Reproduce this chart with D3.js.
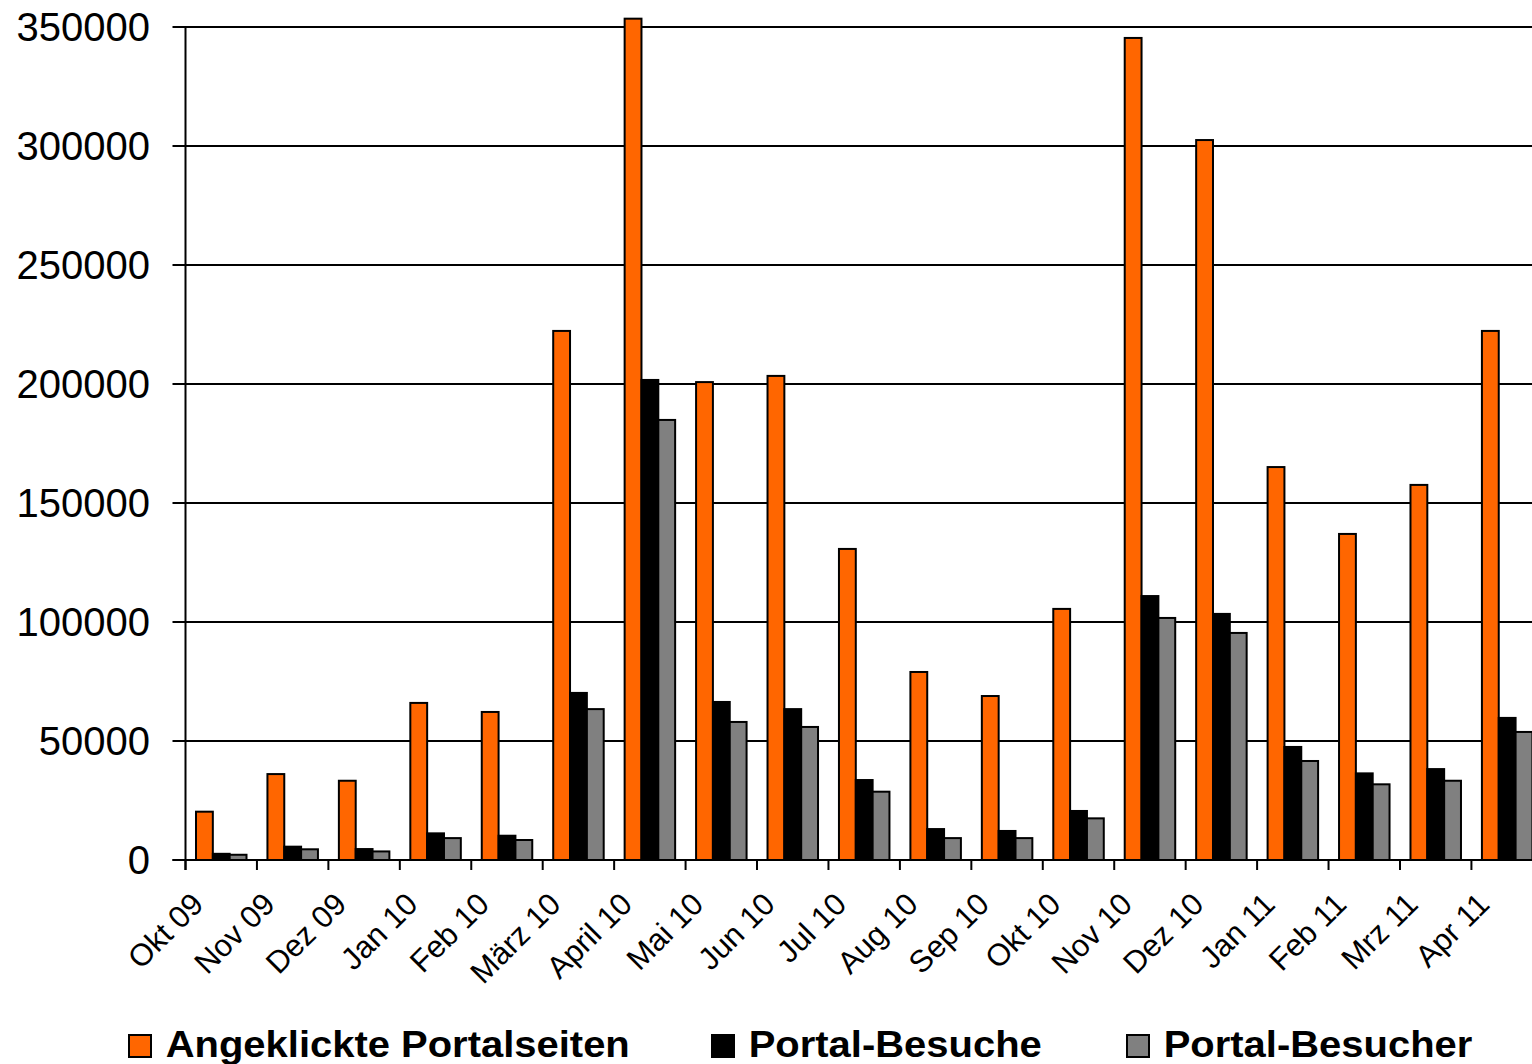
<!DOCTYPE html>
<html>
<head>
<meta charset="utf-8">
<script src="https://cdn.jsdelivr.net/npm/d3@7"></script>
<style>
  html, body { margin: 0; padding: 0; background: #fff; overflow: hidden; }
  svg { display: block; font-family: "Liberation Sans", Arial, sans-serif; }
</style>
</head>
<body>
<svg id="chart" width="1532" height="1064"></svg>
<script>
// Monthly portal statistics, Okt 09 – Apr 11
const months = ["Okt 09", "Nov 09", "Dez 09", "Jan 10", "Feb 10", "März 10", "April 10",
  "Mai 10", "Jun 10", "Jul 10", "Aug 10", "Sep 10", "Okt 10", "Nov 10", "Dez 10",
  "Jan 11", "Feb 11", "Mrz 11", "Apr 11"];

const seriesNames = ["Angeklickte Portalseiten", "Portal-Besuche", "Portal-Besucher"];

const seitenValues = [20300, 36100, 33300, 66000, 62200, 222300, 353500, 200800, 203400,
  130700, 79000, 68900, 105500, 345400, 302500, 165100, 137000, 157600, 222300];

const besucheValues = [2600, 5600, 4600, 11200, 10200, 70200, 201700, 66400, 63400,
  33600, 13000, 12200, 20600, 110900, 103400, 47500, 36400, 38200, 59700];

const besucherValues = [2200, 4500, 3600, 9200, 8400, 63400, 184900, 58000, 55900,
  28700, 9200, 9200, 17500, 101700, 95400, 41600, 31800, 33300, 53800];

const yTicks = [0, 50000, 100000, 150000, 200000, 250000, 300000, 350000];

const colors = ["#FF6600", "#000000", "#808080"];

const allSeries = [seitenValues, besucheValues, besucherValues];

const svg = d3.select("#chart");

// plot frame
const plotLeft = 185.5, plotTop = 27, plotBottom = 860, step = 71.44;
const plotRight = plotLeft + step * months.length;

const y = d3.scaleLinear().domain([0, 350000]).range([plotBottom, plotTop]);
const x = d3.scaleBand().domain(months).range([plotLeft, plotRight]).padding(0);
const xs = d3.scaleBand().domain(seriesNames).range([10.5, 61]).padding(0);

// horizontal grid lines
svg.append("g")
  .selectAll("line")
  .data(yTicks)
  .join("line")
  .attr("x1", plotLeft - 13).attr("x2", 1532)
  .attr("y1", d => y(d)).attr("y2", d => y(d))
  .attr("stroke", "#000").attr("stroke-width", 2);

// y-axis tick labels
svg.append("g")
  .selectAll("text")
  .data(yTicks)
  .join("text")
  .attr("x", 150)
  .attr("y", d => y(d))
  .attr("dy", "0.36em")
  .attr("text-anchor", "end")
  .attr("font-size", 40)
  .attr("fill", "#000")
  .text(d => d);

// bars
const groups = svg.append("g")
  .selectAll("g")
  .data(months.map((m, i) => ({ m, vals: allSeries.map(s => s[i]) })))
  .join("g")
  .attr("transform", d => `translate(${x(d.m)},0)`);

groups.selectAll("rect")
  .data(d => d.vals.map((v, k) => ({ v, k })))
  .join("rect")
  .attr("x", d => xs(seriesNames[d.k]))
  .attr("width", xs.bandwidth())
  .attr("y", d => y(d.v))
  .attr("height", d => plotBottom - y(d.v))
  .attr("fill", d => colors[d.k])
  .attr("stroke", "#000")
  .attr("stroke-width", 2);

// y axis line
svg.append("line")
  .attr("x1", plotLeft).attr("x2", plotLeft)
  .attr("y1", plotTop).attr("y2", plotBottom + 10)
  .attr("stroke", "#000").attr("stroke-width", 2);

// x axis ticks between categories
svg.append("g")
  .selectAll("line")
  .data(d3.range(months.length + 1))
  .join("line")
  .attr("x1", i => plotLeft + i * step).attr("x2", i => plotLeft + i * step)
  .attr("y1", plotBottom).attr("y2", plotBottom + 10)
  .attr("stroke", "#000").attr("stroke-width", 2);

// zero line on top of the bars
svg.append("line")
  .attr("x1", plotLeft - 13).attr("x2", 1532)
  .attr("y1", y(0)).attr("y2", y(0))
  .attr("stroke", "#000").attr("stroke-width", 2);

// rotated month labels
svg.append("g")
  .selectAll("text")
  .data(months)
  .join("text")
  .attr("text-anchor", "end")
  .attr("font-size", 31)
  .attr("fill", "#000")
  .attr("transform", d => `translate(${x(d) + x.bandwidth() / 2 - 16},${plotBottom + 46}) rotate(-45)`)
  .text(d => d);

// legend
const legendX = [129, 712, 1127];
const legend = svg.append("g")
  .selectAll("g")
  .data(seriesNames)
  .join("g")
  .attr("transform", (d, i) => `translate(${legendX[i]},1035)`);

legend.append("rect")
  .attr("width", 22).attr("height", 22)
  .attr("fill", (d, i) => colors[i])
  .attr("stroke", "#000").attr("stroke-width", 2);

legend.append("text")
  .attr("x", 34).attr("y", 22)
  .attr("font-size", 37)
  .attr("font-weight", "bold")
  .attr("fill", "#000")
  .attr("transform", "scale(1.08,1)")
  .text(d => d);
</script>
</body>
</html>
